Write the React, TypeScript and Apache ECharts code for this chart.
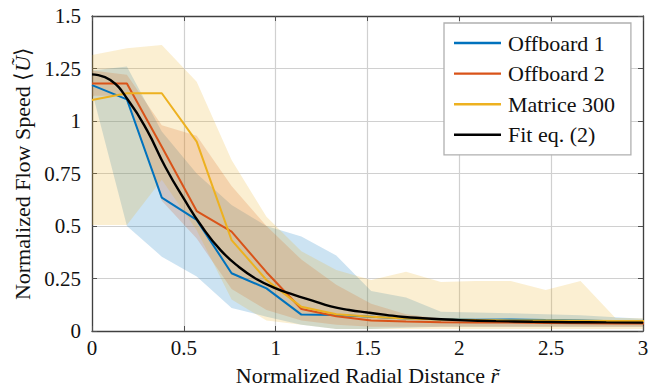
import React, { useEffect, useRef } from "react";
import * as echarts from "echarts";

// sample positions (normalized radial distance)
const xs = [0, 0.19, 0.38, 0.57, 0.76, 0.95, 1.14, 1.33, 1.52, 1.71, 1.9, 2.09, 2.28, 2.47, 2.66, 2.85, 3.04];

// mean curves
const offboard1 = [1.171, 1.103, 0.635, 0.529, 0.275, 0.203, 0.078, 0.076, 0.068, 0.06, 0.056, 0.054, 0.055, 0.052, 0.05, 0.046, 0.043];
const offboard2 = [1.179, 1.179, 0.877, 0.571, 0.473, 0.28, 0.105, 0.07, 0.05, 0.045, 0.042, 0.04, 0.04, 0.038, 0.037, 0.036, 0.035];
const matrice300 = [1.1, 1.132, 1.132, 0.902, 0.433, 0.243, 0.115, 0.08, 0.068, 0.06, 0.055, 0.052, 0.05, 0.05, 0.049, 0.048, 0.047];

// spread bands (lower / upper)
const offboard1Lo = [1.14, 0.5, 0.354, 0.26, 0.11, 0.068, 0.03, 0.01, 0.01, 0.015, 0.02, 0.02, 0.02, 0.02, 0.02, 0.02, 0.02];
const offboard1Hi = [1.24, 1.26, 0.95, 0.75, 0.6, 0.5, 0.45, 0.36, 0.19, 0.16, 0.092, 0.088, 0.085, 0.08, 0.075, 0.065, 0.057];
const offboard2Lo = [1.12, 1.12, 0.62, 0.44, 0.2, 0.1, 0.05, 0.03, 0.02, 0.02, 0.02, 0.02, 0.02, 0.02, 0.02, 0.02, 0.02];
const offboard2Hi = [1.24, 1.22, 0.98, 0.93, 0.69, 0.5, 0.34, 0.22, 0.13, 0.08, 0.06, 0.055, 0.05, 0.05, 0.05, 0.05, 0.05];
const matriceLo = [0.505, 0.505, 0.72, 0.48, 0.15, 0.05, 0.03, 0.01, 0.01, 0.01, 0.01, 0.01, 0.01, 0.01, 0.01, 0.01, 0.01];
const matriceHi = [1.314, 1.346, 1.362, 1.187, 0.814, 0.544, 0.38, 0.29, 0.243, 0.282, 0.233, 0.238, 0.238, 0.195, 0.238, 0.062, 0.06];

// fitted curve, eq. (2)
const fitX = [0, 0.1, 0.2, 0.3, 0.4, 0.5, 0.6, 0.7, 0.8, 0.9, 1.0, 1.1, 1.2, 1.3, 1.4, 1.5, 1.6, 1.7, 1.8, 1.9, 2.0, 2.2, 2.4, 2.6, 2.8, 3.0];
const fitY = [1.222, 1.195, 1.095, 0.955, 0.78, 0.63, 0.495, 0.385, 0.305, 0.245, 0.203, 0.172, 0.145, 0.117, 0.1, 0.088, 0.077, 0.067, 0.061, 0.056, 0.052, 0.047, 0.044, 0.042, 0.041, 0.04];

const xTicks = { min: 0, max: 3, interval: 0.5 };
const yTicks = { min: 0, max: 1.5, interval: 0.25 };

const BLUE = "#0072BD";
const ORANGE = "#D95319";
const YELLOW = "#EDB120";
const FONT = "Liberation Serif";

function band(id: string, lo: number[], hi: number[], color: string) {
  return {
    type: "custom",
    name: id,
    silent: true,
    clip: true,
    z: 1,
    data: [[0, 0]],
    renderItem: (params: any, api: any) => {
      const top = xs.map((x, i) => api.coord([x, hi[i]]));
      const bottom = xs.map((x, i) => api.coord([x, lo[i]])).reverse();
      const cs = params.coordSys;
      return {
        type: "group",
        children: [
          {
            type: "polygon",
            shape: { points: top.concat(bottom) },
            style: { fill: color, opacity: 0.2 },
          },
        ],
        clipPath: { type: "rect", shape: { x: cs.x, y: cs.y, width: cs.width, height: cs.height } },
      };
    },
  };
}

function lineSeries(name: string, xv: number[], yv: number[], color: string, width: number, smooth = false) {
  return {
    type: "line",
    name,
    data: xv.map((x, i) => [x, yv[i]]),
    symbol: "none",
    smooth,
    lineStyle: { color, width },
    itemStyle: { color },
    z: 3,
  };
}

export default function App() {
  const ref = useRef<HTMLDivElement>(null);
  useEffect(() => {
    document.body.style.margin = "0";
    const chart = echarts.init(ref.current!, null, { renderer: "svg" });
    const axisCommon = {
      axisLine: { show: true, onZero: false, lineStyle: { color: "#404040", width: 1.3 } },
      axisTick: { show: true, inside: true, length: 5, lineStyle: { color: "#505050", width: 1 } },
    };
    const txt = { fontFamily: FONT, color: "#111" };
    chart.setOption({
      animation: false,
      backgroundColor: "#fff",
      textStyle: { fontFamily: FONT },
      grid: { left: 92, right: 15, top: 16, bottom: 60, show: false },
      legend: {
        data: ["Offboard 1", "Offboard 2", "Matrice 300", "Fit eq. (2)"],
        orient: "vertical",
        left: 444,
        top: 23,
        padding: [9, 16, 9, 10],
        icon: "rect",
        itemWidth: 47,
        itemHeight: 2.4,
        itemGap: 8.6,
        backgroundColor: "#fff",
        borderColor: "#b0b0b0",
        borderWidth: 1.3,
        textStyle: { ...txt, fontSize: 22, lineHeight: 22, padding: [0, 0, 0, 2] },
      },
      xAxis: [
        {
          type: "value",
          ...xTicks,
          ...axisCommon,
          splitLine: { show: true, lineStyle: { color: "#d0d0d0", width: 1.2 } },
          axisLabel: { ...txt, fontSize: 21, margin: 6 },
          name: "Normalized Radial Distance {i|r\u0303}",
          nameLocation: "middle",
          nameGap: 33,
          nameTextStyle: {
            ...txt,
            fontSize: 22,
            rich: { i: { ...txt, fontSize: 22, fontStyle: "italic" } },
          },
        },
        {
          type: "value",
          position: "top",
          ...xTicks,
          ...axisCommon,
          splitLine: { show: false },
          axisLabel: { show: false },
        },
      ],
      yAxis: [
        {
          type: "value",
          ...yTicks,
          ...axisCommon,
          splitLine: { show: true, lineStyle: { color: "#d0d0d0", width: 1.2 } },
          axisLabel: { ...txt, fontSize: 21, margin: 11 },
          name: "Normalized Flow Speed \u27E8{i|\u0168}\u27E9",
          nameLocation: "middle",
          nameGap: 58,
          nameTextStyle: {
            ...txt,
            fontSize: 22,
            rich: { i: { ...txt, fontSize: 22, fontStyle: "italic" } },
          },
        },
        {
          type: "value",
          position: "right",
          ...yTicks,
          ...axisCommon,
          splitLine: { show: false },
          axisLabel: { show: false },
        },
      ],
      series: [
        band("b1", offboard1Lo, offboard1Hi, BLUE),
        band("b2", offboard2Lo, offboard2Hi, ORANGE),
        band("b3", matriceLo, matriceHi, YELLOW),
        lineSeries("Offboard 1", xs, offboard1, BLUE, 2),
        lineSeries("Offboard 2", xs, offboard2, ORANGE, 2),
        lineSeries("Matrice 300", xs, matrice300, YELLOW, 2),
        lineSeries("Fit eq. (2)", fitX, fitY, "#000", 2.4, true),
      ],
    });
    return () => chart.dispose();
  }, []);
  return <div ref={ref} style={{ width: 658, height: 391 }} />;
}
